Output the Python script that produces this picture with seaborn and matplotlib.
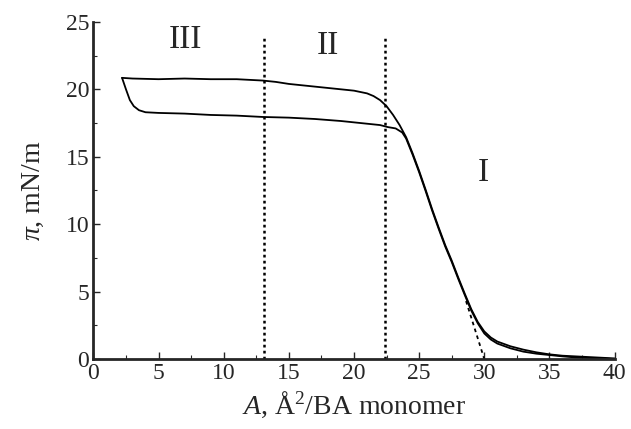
import matplotlib
matplotlib.use("Agg")
import matplotlib.pyplot as plt
import seaborn as sns
import pandas as pd
from matplotlib.ticker import MultipleLocator

# ---- data ----
upper_A = [2.2, 3, 5, 7, 9, 11, 13, 14, 15, 16, 17, 18, 19, 20, 21, 21.5, 22, 22.5,
           23, 23.5, 24, 24.5, 25, 25.5, 26, 26.5, 27, 27.5, 28, 28.5, 29, 29.5, 30,
           30.5, 31, 32, 33, 34, 35, 36, 37, 38, 39, 40]
upper_pi = [20.85, 20.8, 20.75, 20.8, 20.75, 20.75, 20.65, 20.55, 20.4, 20.3, 20.2,
            20.1, 20.0, 19.9, 19.7, 19.5, 19.2, 18.75, 18.1, 17.35, 16.45, 15.25,
            13.95, 12.55, 11.1, 9.75, 8.45, 7.3, 6.05, 4.85, 3.7, 2.75, 2.05, 1.6,
            1.3, 0.95, 0.7, 0.5, 0.35, 0.25, 0.2, 0.15, 0.1, 0.05]

lower_A = [2.2, 2.5, 2.8, 3.1, 3.5, 4, 5, 7, 9, 11, 13, 15, 17, 19, 21, 22, 22.6,
           23.2, 23.7, 24, 24.5, 25, 25.5, 26, 26.5, 27, 27.5, 28, 28.5, 29, 29.5,
           30, 30.5, 31, 32, 33, 34, 35, 36, 37, 38, 39, 40]
lower_pi = [20.85, 20.0, 19.2, 18.75, 18.45, 18.3, 18.25, 18.2, 18.1, 18.05, 17.95,
            17.9, 17.8, 17.65, 17.45, 17.35, 17.2, 17.1, 16.8, 16.35, 15.15, 13.85,
            12.45, 11.0, 9.65, 8.35, 7.2, 5.95, 4.75, 3.6, 2.65, 1.9, 1.45, 1.15,
            0.8, 0.55, 0.4, 0.3, 0.2, 0.12, 0.08, 0.05, 0.0]

tangent_A = [28.6, 30.0]
tangent_pi = [4.3, 0.0]

region_bounds = [13.1, 22.4]
region_top = 23.8
region_labels = ["III", "II", "I"]

x_ticks = [0, 5, 10, 15, 20, 25, 30, 35, 40]
y_ticks = [0, 5, 10, 15, 20, 25]

# ---- style ----
sns.set_style("ticks")
plt.rcParams["font.family"] = ["Liberation Serif", "DejaVu Serif"]
plt.rcParams["mathtext.fontset"] = "custom"
plt.rcParams["mathtext.rm"] = "Liberation Serif"
plt.rcParams["mathtext.it"] = "Liberation Serif:italic"

fig = plt.figure(figsize=(6.31, 4.29), dpi=100)
ax = fig.add_axes([0.148, 0.163, 0.826, 0.786])

df_up = pd.DataFrame({"A": upper_A, "pi": upper_pi})
df_lo = pd.DataFrame({"A": lower_A, "pi": lower_pi})
df_tan = pd.DataFrame({"A": tangent_A, "pi": tangent_pi})

sns.lineplot(data=df_up, x="A", y="pi", sort=False, color="black", lw=1.3, ax=ax)
sns.lineplot(data=df_lo, x="A", y="pi", sort=False, color="black", lw=1.3, ax=ax)
sns.lineplot(data=df_tan, x="A", y="pi", sort=False, color="black", lw=1.3,
             linestyle=(0, (2, 2)), ax=ax)

ax.vlines(region_bounds, 0, region_top, colors="black", linewidth=1.8,
          linestyles=[(0, (1.1, 1.3))])

ax.text(7.1, 23.7, region_labels[0], fontsize=24, ha="center", va="center")
ax.text(18.0, 23.2, region_labels[1], fontsize=24, ha="center", va="center")
ax.text(29.9, 13.8, region_labels[2], fontsize=24, ha="center", va="center")

ax.set_xlim(0, 40)
ax.set_ylim(0, 25)
ax.set_xticks(x_ticks)
ax.set_yticks(y_ticks)
ax.xaxis.set_minor_locator(MultipleLocator(2.5))
ax.yaxis.set_minor_locator(MultipleLocator(2.5))
ax.tick_params(which="major", direction="in", length=5, width=1, labelsize=17, pad=3)
ax.tick_params(which="minor", direction="in", length=3, width=0.8)

ax.spines["top"].set_visible(False)
ax.spines["right"].set_visible(False)
ax.spines["left"].set_linewidth(2.0)
ax.spines["bottom"].set_linewidth(2.0)

ax.set_xlabel("$A$, Å$^2$/BA monomer", fontsize=20, labelpad=4)
ax.set_ylabel("$\\pi$, mN/m", fontsize=20, labelpad=14)

fig.savefig("out.png", dpi=100, facecolor="white")
